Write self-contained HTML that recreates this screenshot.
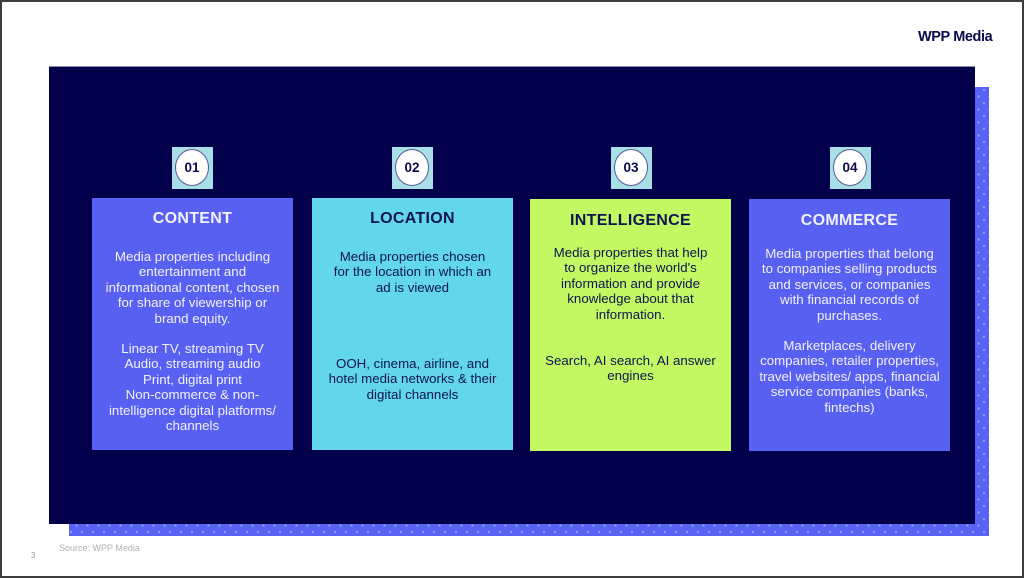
<!DOCTYPE html>
<html>
<head>
<meta charset="utf-8">
<style>
  html,body{margin:0;padding:0;}
  body{width:1024px;height:578px;position:relative;overflow:hidden;background:#fff;font-family:"Liberation Sans",Arial,sans-serif;}
  .frame{position:absolute;left:0;top:0;width:1020px;height:574px;border:2px solid #3c3c3c;background:#fff;}
  .logo{position:absolute;left:918px;top:29px;font-size:14.5px;font-weight:bold;color:#0b0a4a;letter-spacing:-0.4px;white-space:nowrap;}
  .shadow{position:absolute;left:69px;top:87px;width:920px;height:449px;background-color:#5a62f4;
    background-image:radial-gradient(circle,#7fa8ff 0.9px,transparent 1.4px),radial-gradient(circle,#7fa8ff 0.9px,transparent 1.4px);
    background-size:11px 13px,11px 13px;background-position:2px 3px,7.5px 9.5px;}
  .dark{position:absolute;left:49px;top:66px;width:926px;height:458px;background:#02004a;border-top:1px solid #8a8ab0;box-sizing:border-box;}
  .card{position:absolute;top:198px;height:252px;width:201px;}
  .badge{position:absolute;top:147px;width:41px;height:42px;background:#a8dfe6;}
  .badge .c{position:absolute;left:3px;top:2px;width:32px;height:35px;border:1.5px solid #5a5a9c;border-radius:50%;background:#fff;
    font-weight:bold;font-size:13.5px;color:#0b0a4a;text-align:center;line-height:35px;}
  .t{position:absolute;width:201px;text-align:center;white-space:nowrap;}
  .title{font-weight:bold;font-size:16px;line-height:18px;letter-spacing:0.3px;}
  .body{font-size:13.3px;line-height:15.4px;}
  .w{color:#f2f2ff;}
  .d{color:#0d1450;}
  .src{position:absolute;left:59px;top:543px;font-size:9px;color:#b0b0b0;white-space:nowrap;}
  .pg{position:absolute;left:31px;top:551px;font-size:8px;color:#999;}
</style>
</head>
<body>
<div class="frame"></div>
<div class="logo">WPP Media</div>
<div class="shadow"></div>
<div class="dark"></div>

<!-- badges -->
<div class="badge" style="left:172px;"><div class="c">01</div></div>
<div class="badge" style="left:392px;"><div class="c">02</div></div>
<div class="badge" style="left:611px;"><div class="c">03</div></div>
<div class="badge" style="left:830px;"><div class="c">04</div></div>

<!-- cards -->
<div class="card" style="left:92px;background:#5760f1;"></div>
<div class="card" style="left:312px;background:#63d7ea;"></div>
<div class="card" style="left:530px;top:199px;background:#c4f862;"></div>
<div class="card" style="left:749px;top:199px;background:#5760f1;"></div>

<!-- card 1 -->
<div class="t title w" style="left:92px;top:210px;">CONTENT</div>
<div class="t body w" style="left:92px;top:249px;">Media properties including<br>entertainment and<br>informational content, chosen<br>for share of viewership or<br>brand equity.</div>
<div class="t body w" style="left:92px;top:341px;">Linear TV, streaming TV<br>Audio, streaming audio<br>Print, digital print<br>Non-commerce &amp; non-<br>intelligence digital platforms/<br>channels</div>

<!-- card 2 -->
<div class="t title d" style="left:312px;top:210px;">LOCATION</div>
<div class="t body d" style="left:312px;top:249px;">Media properties chosen<br>for the location in which an<br>ad is viewed</div>
<div class="t body d" style="left:312px;top:356px;">OOH, cinema, airline, and<br>hotel media networks &amp; their<br>digital channels</div>

<!-- card 3 -->
<div class="t title d" style="left:530px;top:212px;">INTELLIGENCE</div>
<div class="t body d" style="left:530px;top:245px;">Media properties that help<br>to organize the world's<br>information and provide<br>knowledge about that<br>information.</div>
<div class="t body d" style="left:530px;top:353px;">Search, AI search, AI answer<br>engines</div>

<!-- card 4 -->
<div class="t title w" style="left:749px;top:212px;">COMMERCE</div>
<div class="t body w" style="left:749px;top:246px;">Media properties that belong<br>to companies selling products<br>and services, or companies<br>with financial records of<br>purchases.</div>
<div class="t body w" style="left:749px;top:338px;">Marketplaces, delivery<br>companies, retailer properties,<br>travel websites/ apps, financial<br>service companies (banks,<br>fintechs)</div>

<div class="src">Source: WPP Media</div>
<div class="pg">3</div>
</body>
</html>
